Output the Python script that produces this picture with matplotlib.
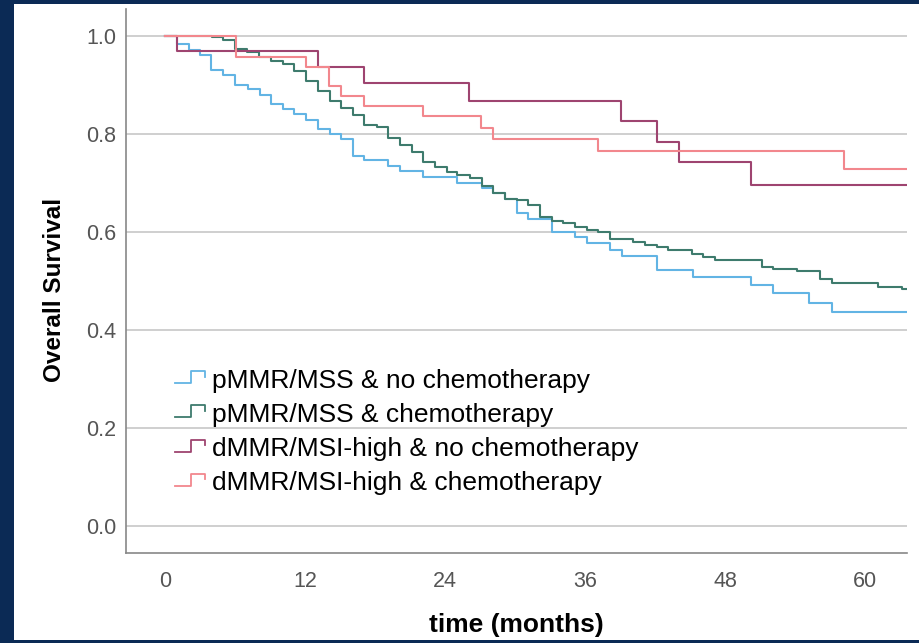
import matplotlib
matplotlib.use("Agg")
import matplotlib.pyplot as plt
from matplotlib.legend_handler import HandlerBase
from matplotlib.lines import Line2D
from matplotlib.patches import Rectangle

plt.rcParams['font.family'] = ['Liberation Sans', 'DejaVu Sans']

# Kaplan-Meier steps (months, survival after the drop)
labels = ["pMMR/MSS & no chemotherapy", "pMMR/MSS & chemotherapy",
          "dMMR/MSI-high & no chemotherapy", "dMMR/MSI-high & chemotherapy"]
colors = ["#62b4e4", "#3e7b6d", "#9e4470", "#f2878d"]
last_followup = 63.6

t_pmmr_nochemo = [1.0, 2.06, 3.0, 3.94, 5.0, 6.03, 7.14, 8.14, 9.06, 10.09, 11.06,
                  12.09, 13.09, 14.14, 15.09, 16.09, 17.08, 19.14, 20.14, 22.14,
                  25.05, 27.14, 28.14, 29.14, 30.14, 31.14, 33.15, 35.14, 36.14,
                  38.14, 39.14, 42.2, 45.23, 50.2, 52.14, 55.2, 57.2]
s_pmmr_nochemo = [0.983, 0.971, 0.961, 0.931, 0.920, 0.900, 0.891, 0.880, 0.861, 0.851,
                  0.840, 0.829, 0.810, 0.800, 0.789, 0.756, 0.746, 0.735, 0.724, 0.713,
                  0.699, 0.689, 0.679, 0.667, 0.639, 0.626, 0.601, 0.589, 0.577,
                  0.563, 0.550, 0.522, 0.509, 0.492, 0.476, 0.456, 0.436]

t_pmmr_chemo = [4.0, 5.0, 6.03, 7.05, 8.08, 9.06, 10.09, 11.06, 12.09, 13.09, 14.14,
                15.09, 16.09, 17.08, 18.15, 19.14, 20.14, 21.15, 22.14, 23.14, 24.14,
                25.05, 26.14, 27.14, 28.14, 29.14, 30.14, 31.14, 32.14, 33.15, 34.14,
                35.14, 36.14, 37.14, 38.14, 40.14, 41.14, 42.14, 43.14, 45.14, 46.14,
                47.14, 51.14, 52.14, 54.14, 56.14, 57.2, 61.14, 63.14]
s_pmmr_chemo = [0.997, 0.992, 0.973, 0.968, 0.958, 0.949, 0.942, 0.929, 0.908, 0.888,
                0.868, 0.852, 0.839, 0.818, 0.815, 0.791, 0.778, 0.764, 0.743, 0.733,
                0.722, 0.716, 0.711, 0.693, 0.679, 0.667, 0.665, 0.655, 0.631, 0.622,
                0.618, 0.610, 0.605, 0.601, 0.586, 0.580, 0.573, 0.569, 0.563, 0.556,
                0.548, 0.543, 0.529, 0.524, 0.520, 0.504, 0.495, 0.488, 0.483]

t_dmmr_nochemo = [1.0, 13.1, 17.1, 26.1, 39.1, 42.2, 44.1, 50.2]
s_dmmr_nochemo = [0.969, 0.937, 0.905, 0.867, 0.826, 0.784, 0.743, 0.696]

t_dmmr_chemo = [6.1, 12.1, 14.1, 15.1, 17.1, 22.1, 27.1, 28.1, 37.1, 58.2]
s_dmmr_chemo = [0.958, 0.937, 0.898, 0.878, 0.857, 0.837, 0.813, 0.789, 0.765, 0.728]

x_ticks = [0, 12, 24, 36, 48, 60]
y_ticks = [0.0, 0.2, 0.4, 0.6, 0.8, 1.0]

series = [(t_pmmr_nochemo, s_pmmr_nochemo), (t_pmmr_chemo, s_pmmr_chemo),
          (t_dmmr_nochemo, s_dmmr_nochemo), (t_dmmr_chemo, s_dmmr_chemo)]


class StepHandler(HandlerBase):
    # little step icon like the SPSS legend
    def create_artists(self, legend, orig, xd, yd, width, height, fontsize, trans):
        xm = xd + 0.53 * width
        xs = [xd, xm, xm, xd + width, xd + width]
        ys = [yd + 0.25 * height, yd + 0.25 * height, yd + 0.9 * height,
              yd + 0.9 * height, yd + 0.6 * height]
        ln = Line2D(xs, ys, color=orig.get_color(), lw=1.3, transform=trans)
        return [ln]


fig = plt.figure(figsize=(9.2, 6.43), dpi=100, facecolor="#0b2a55")
fig.patches.append(Rectangle((14 / 920, 3 / 643), 1, 636 / 643, transform=fig.transFigure,
                             facecolor="white", edgecolor="none", zorder=-10))

ax = fig.add_axes([126 / 920, 90 / 643, 781 / 920, 544 / 643])
ax.set_facecolor("white")

for y in y_ticks:
    ax.axhline(y, color="#cccccc", lw=1.3, zorder=1)

handles = []
for (t, s), c, lab in zip(series, colors, labels):
    xs = [0] + t + [last_followup]
    ys = [1.0] + s + [s[-1]]
    h, = ax.step(xs, ys, where="post", color=c, lw=1.5, zorder=3, label=lab)
    handles.append(h)

ax.set_xlim(-3.34, 63.6)
ax.set_ylim(-0.055, 1.055)
ax.set_xticks(x_ticks)
ax.set_yticks(y_ticks)
ax.set_yticklabels([f"{v:.1f}" for v in y_ticks])
ax.tick_params(length=0, labelsize=15.5, colors="#555555")
ax.tick_params(axis="y", pad=7)
ax.tick_params(axis="x", pad=13)

for side in ["top", "right"]:
    ax.spines[side].set_visible(False)
for side in ["left", "bottom"]:
    ax.spines[side].set_color("#888888")
    ax.spines[side].set_linewidth(1.2)

ax.set_xlabel("time (months)", fontsize=19, fontweight="bold", labelpad=15)
ax.set_ylabel("Overall Survival", fontsize=17.5, fontweight="bold")
ax.yaxis.set_label_coords(-0.077, 0.4835)

ax.legend(handles=handles, handler_map={Line2D: StepHandler()},
          loc="upper left", bbox_to_anchor=(0.063, 0.339), frameon=False,
          fontsize=19, handlelength=1.13, handletextpad=0.27, labelspacing=0.39,
          borderpad=0, borderaxespad=0)

fig.savefig("out.png", dpi=100, facecolor=fig.get_facecolor())
